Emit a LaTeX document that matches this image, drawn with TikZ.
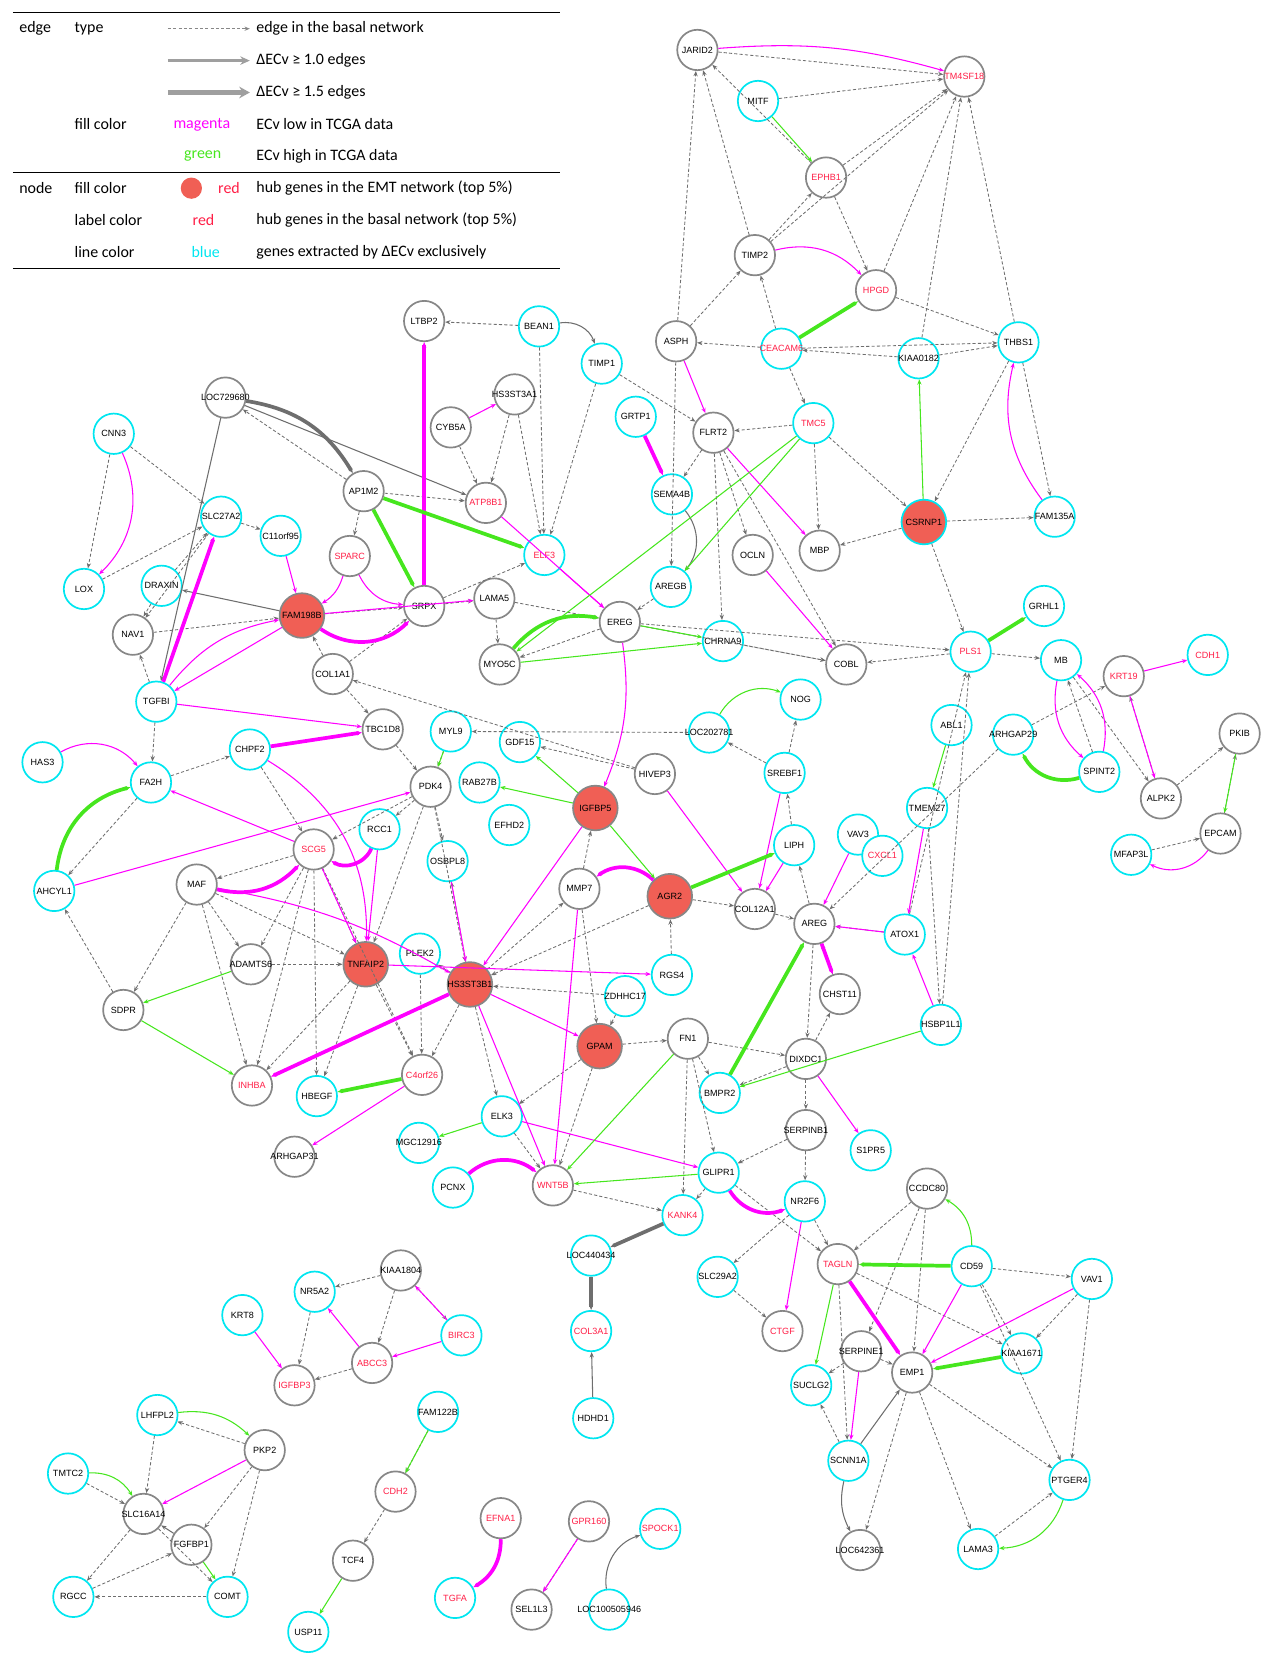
\documentclass[tikz,border=0pt]{standalone}
\usepackage{fontspec}
\setmainfont{Carlito}
\newfontfamily\arialf{Liberation Sans}
\usetikzlibrary{arrows.meta}
\definecolor{cy}{RGB}{0,230,240}
\definecolor{gy}{RGB}{135,135,135}
\definecolor{rd}{RGB}{255,30,70}
\definecolor{hubf}{RGB}{240,95,85}
\definecolor{mg}{RGB}{255,0,255}
\definecolor{gr}{RGB}{70,230,30}
\definecolor{ln}{RGB}{110,110,110}
\tikzset{
 base/.style={circle,line width=1.6pt,minimum size=38pt,inner sep=0pt,fill=white,font=\arialf\fontsize{8.5}{9}\selectfont,
   execute at begin node={\hbox to 0pt\bgroup\hss}, execute at end node={\hss\egroup}},
 cn/.style={base,draw=cy},
 gn/.style={base,draw=gy},
 rl/.style={text=rd},
 hub/.style={base,draw=gy,fill=hubf,minimum size=42pt},
 hubc/.style={base,draw=cy,fill=hubf,minimum size=42pt},
 tip/.style={-{Stealth[length=5pt,width=4pt]}},
 d/.style={tip,ln,dashed,dash pattern=on 3pt off 2pt,line width=0.8pt},
 s/.style={tip,ln,line width=1pt},
 S/.style={tip,ln,line width=3.5pt},
 m/.style={tip,mg,line width=1pt},
 M/.style={tip,mg,line width=3.5pt},
 g/.style={tip,gr,line width=1pt},
 G/.style={tip,gr,line width=3.5pt},
 lg/.style={font=\fontsize{15}{17}\selectfont,anchor=west,inner sep=0pt},
}
\begin{document}
\begin{tikzpicture}[x=1pt,y=-1pt]
\useasboundingbox (0,0) rectangle (1198,1568);
% legend
\draw[line width=0.6pt] (12,12)--(527,12) (12,162)--(527,162) (12,252)--(527,252);
\node[lg] (l1) at (18,27) {edge}; \node[lg] (l2) at (70,27) {type};
\coordinate (a1) at (158,27); \coordinate (b1) at (235,27);
\draw[d,gy,line width=1.2pt] (a1)--(b1);
\node[lg] (t1) at (241,27) {edge in the basal network};
\coordinate (a2) at (158,57); \coordinate (b2) at (235,57);
\draw[gy!80,line width=2.5pt,-{Stealth[length=9pt,width=8pt]}] (a2)--(b2);
\node[lg] (t2) at (241,57) {ΔECv ≥ 1.0 edges};
\coordinate (a3) at (158,87); \coordinate (b3) at (235,87);
\draw[gy!80,line width=5pt,-{Stealth[length=10pt,width=11pt]}] (a3)--(b3);
\node[lg] (t3) at (241,87) {ΔECv ≥ 1.5 edges};
\node[lg] (l3) at (70,117) {fill color}; \node[lg,text=mg] (l4) at (163,117) {magenta};
\node[lg] (t4) at (241,117) {ECv low in TCGA data};
\node[lg,text=gr] (l5) at (173,147) {green}; \node[lg] (t5) at (241,147) {ECv high in TCGA data};
\node[lg] (l6) at (18,177) {node}; \node[lg] (l7) at (70,177) {fill color};
\node[circle,fill=hubf,minimum size=20pt,inner sep=0] (rc) at (180,177) {};
\node[lg,text=rd] (l8) at (205,177) {red}; \node[lg] (t6) at (241,177) {hub genes in the EMT network (top 5\%)};
\node[lg] (l9) at (70,207) {label color}; \node[lg,text=rd] (l10) at (181,207) {red};
\node[lg] (t7) at (241,207) {hub genes in the basal network (top 5\%)};
\node[lg] (l11) at (70,237) {line color}; \node[lg,text=cy] (l12) at (180,237) {blue};
\node[lg] (t8) at (241,237) {genes extracted by ΔECv exclusively};
% nodes
\node[gn] (JARID2) at (656,47) {JARID2};
\node[gn,rl] (TM4SF18) at (907,72) {TM4SF18};
\node[cn] (MITF) at (713,95) {MITF};
\node[gn,rl] (EPHB1) at (777,167) {EPHB1};
\node[gn] (TIMP2) at (710,240) {TIMP2};
\node[gn,rl] (HPGD) at (824,273) {HPGD};
\node[gn] (ASPH) at (636,321) {ASPH};
\node[cn,rl] (CEACAM6) at (735,328) {CEACAM6};
\node[cn] (KIAA0182) at (864,337) {KIAA0182};
\node[cn] (THBS1) at (958,322) {THBS1};
\node[cn,rl] (TMC5) at (765,398) {TMC5};
\node[gn] (FLRT2) at (671,407) {FLRT2};
\node[hubc] (CSRNP1) at (869,491) {CSRNP1};
\node[cn] (FAM135A) at (992,486) {FAM135A};
\node[gn] (MBP) at (771,518) {MBP};
\node[gn] (OCLN) at (708,522) {OCLN};
\node[cn] (GRTP1) at (598,392) {GRTP1};
\node[cn] (SEMA4B) at (632,465) {SEMA4B};
\node[cn] (AREGB) at (631,552) {AREGB};
\node[gn] (LTBP2) at (399,302) {LTBP2};
\node[cn] (BEAN1) at (507,307) {BEAN1};
\node[cn] (TIMP1) at (566,342) {TIMP1};
\node[gn] (HS3ST3A1) at (484,371) {HS3ST3A1};
\node[gn] (CYB5A) at (424,402) {CYB5A};
\node[gn] (LOC729680) at (212,374) {LOC729680};
\node[cn] (CNN3) at (107,408) {CNN3};
\node[gn] (AP1M2) at (342,462) {AP1M2};
\node[gn,rl] (ATP8B1) at (457,473) {ATP8B1};
\node[cn] (SLC27A2) at (208,486) {SLC27A2};
\node[cn] (C11orf95) at (264,504) {C11orf95};
\node[gn,rl] (SPARC) at (329,523) {SPARC};
\node[cn,rl] (ELF3) at (512,522) {ELF3};
\node[cn] (LOX) at (79,554) {LOX};
\node[cn] (DRAXIN) at (152,551) {DRAXIN};
\node[hub] (FAM198B) at (284,579) {FAM198B};
\node[gn] (SRPX) at (399,570) {SRPX};
\node[gn] (LAMA5) at (465,563) {LAMA5};
\node[gn] (EREG) at (583,585) {EREG};
\node[gn] (NAV1) at (125,597) {NAV1};
\node[gn] (MYO5C) at (470,625) {MYO5C};
\node[cn] (CHRNA9) at (680,603) {CHRNA9};
\node[gn] (COBL) at (796,625) {COBL};
\node[cn,rl] (PLS1) at (913,613) {PLS1};
\node[cn] (GRHL1) at (982,570) {GRHL1};
\node[cn] (MB) at (998,621) {MB};
\node[gn,rl] (KRT19) at (1057,636) {KRT19};
\node[cn,rl] (CDH1) at (1136,616) {CDH1};
\node[gn] (COL1A1) at (313,634) {COL1A1};
\node[cn] (NOG) at (753,658) {NOG};
\node[cn] (TGFBI) at (147,660) {TGFBI};
\node[cn] (LOC202781) at (667,689) {LOC202781};
\node[cn] (ABL1) at (895,682) {ABL1};
\node[gn] (PKIB) at (1166,690) {PKIB};
\node[cn] (HAS3) at (40,717) {HAS3};
\node[cn] (FA2H) at (142,736) {FA2H};
\node[cn] (CHPF2) at (235,705) {CHPF2};
\node[gn] (TBC1D8) at (360,686) {TBC1D8};
\node[cn] (MYL9) at (424,688) {MYL9};
\node[cn] (GDF15) at (489,698) {GDF15};
\node[cn] (RAB27B) at (451,736) {RAB27B};
\node[gn] (PDK4) at (405,740) {PDK4};
\node[gn] (HIVEP3) at (616,728) {HIVEP3};
\node[cn] (SREBF1) at (738,727) {SREBF1};
\node[cn] (ARHGAP29) at (953,691) {ARHGAP29};
\node[cn] (SPINT2) at (1034,726) {SPINT2};
\node[gn] (ALPK2) at (1092,751) {ALPK2};
\node[cn] (TMEM27) at (872,760) {TMEM27};
\node[gn] (EPCAM) at (1148,784) {EPCAM};
\node[cn] (MFAP3L) at (1064,804) {MFAP3L};
\node[cn] (AHCYL1) at (51,838) {AHCYL1};
\node[gn,rl] (SCG5) at (295,799) {SCG5};
\node[cn] (RCC1) at (357,780) {RCC1};
\node[gn] (MAF) at (185,832) {MAF};
\node[cn] (OSBPL8) at (421,810) {OSBPL8};
\node[cn] (EFHD2) at (479,776) {EFHD2};
\node[hub] (IGFBP5) at (560,760) {IGFBP5};
\node[cn] (LIPH) at (747,795) {LIPH};
\node[cn] (VAV3) at (807,785) {VAV3};
\node[cn,rl] (CXCL1) at (830,805) {CXCL1};
\node[gn] (MMP7) at (545,836) {MMP7};
\node[hub] (AGR2) at (630,843) {AGR2};
\node[gn] (COL12A1) at (710,855) {COL12A1};
\node[gn] (AREG) at (766,869) {AREG};
\node[cn] (ATOX1) at (851,879) {ATOX1};
\node[gn] (ADAMTS6) at (236,907) {ADAMTS6};
\node[hub] (TNFAIP2) at (344,907) {TNFAIP2};
\node[cn] (PLEK2) at (395,897) {PLEK2};
\node[hub] (HS3ST3B1) at (442,926) {HS3ST3B1};
\node[cn] (RGS4) at (632,917) {RGS4};
\node[cn] (ZDHHC17) at (588,937) {ZDHHC17};
\node[gn] (CHST11) at (790,935) {CHST11};
\node[gn] (SDPR) at (116,950) {SDPR};
\node[cn] (HSBP1L1) at (885,964) {HSBP1L1};
\node[hub] (GPAM) at (564,984) {GPAM};
\node[gn] (FN1) at (647,977) {FN1};
\node[gn] (DIXDC1) at (758,996) {DIXDC1};
\node[gn,rl] (INHBA) at (237,1021) {INHBA};
\node[cn] (HBEGF) at (298,1031) {HBEGF};
\node[gn,rl] (C4orf26) at (397,1011) {C4orf26};
\node[cn] (BMPR2) at (677,1028) {BMPR2};
\node[cn] (ELK3) at (472,1050) {ELK3};
\node[cn] (MGC12916) at (394,1075) {MGC12916};
\node[gn] (ARHGAP31) at (277,1088) {ARHGAP31};
\node[gn] (SERPINB1) at (758,1063) {SERPINB1};
\node[cn] (S1PR5) at (819,1082) {S1PR5};
\node[cn] (PCNX) at (426,1117) {PCNX};
\node[gn,rl] (WNT5B) at (520,1115) {WNT5B};
\node[cn] (GLIPR1) at (676,1103) {GLIPR1};
\node[gn] (CCDC80) at (872,1118) {CCDC80};
\node[cn] (NR2F6) at (757,1130) {NR2F6};
\node[cn,rl] (KANK4) at (642,1143) {KANK4};
\node[cn] (LOC440434) at (556,1181) {LOC440434};
\node[gn,rl] (TAGLN) at (788,1189) {TAGLN};
\node[cn] (CD59) at (914,1191) {CD59};
\node[cn] (VAV1) at (1027,1203) {VAV1};
\node[cn] (SLC29A2) at (675,1201) {SLC29A2};
\node[gn,rl] (CTGF) at (736,1252) {CTGF};
\node[cn] (KIAA1671) at (961,1273) {KIAA1671};
\node[gn] (SERPINE1) at (810,1271) {SERPINE1};
\node[gn] (EMP1) at (858,1291) {EMP1};
\node[cn] (SUCLG2) at (763,1303) {SUCLG2};
\node[cn,rl] (COL3A1) at (556,1252) {COL3A1};
\node[cn] (KRT8) at (228,1237) {KRT8};
\node[cn] (NR5A2) at (296,1215) {NR5A2};
\node[gn] (KIAA1804) at (377,1195) {KIAA1804};
\node[cn,rl] (BIRC3) at (434,1256) {BIRC3};
\node[gn,rl] (ABCC3) at (350,1282) {ABCC3};
\node[gn,rl] (IGFBP3) at (277,1303) {IGFBP3};
\node[cn] (HDHD1) at (558,1334) {HDHD1};
\node[cn] (FAM122B) at (412,1328) {FAM122B};
\node[gn,rl] (CDH2) at (372,1403) {CDH2};
\node[cn] (SCNN1A) at (798,1374) {SCNN1A};
\node[cn] (PTGER4) at (1006,1392) {PTGER4};
\node[gn] (LOC642361) at (809,1458) {LOC642361};
\node[cn] (LAMA3) at (920,1457) {LAMA3};
\node[cn] (LHFPL2) at (148,1331) {LHFPL2};
\node[gn] (PKP2) at (249,1364) {PKP2};
\node[cn] (TMTC2) at (64,1386) {TMTC2};
\node[gn] (SLC16A14) at (135,1424) {SLC16A14};
\node[gn] (FGFBP1) at (180,1453) {FGFBP1};
\node[cn] (RGCC) at (69,1502) {RGCC};
\node[cn] (COMT) at (214,1502) {COMT};
\node[gn] (TCF4) at (332,1468) {TCF4};
\node[cn] (USP11) at (290,1535) {USP11};
\node[gn,rl] (EFNA1) at (471,1428) {EFNA1};
\node[cn,rl] (TGFA) at (428,1503) {TGFA};
\node[gn,rl] (GPR160) at (554,1431) {GPR160};
\node[gn] (SEL1L3) at (500,1514) {SEL1L3};
\node[cn,rl] (SPOCK1) at (621,1438) {SPOCK1};
\node[cn] (LOC100505946) at (573,1514) {LOC100505946};
% dashed edges
\foreach \a/\b in {TIMP2/JARID2,ASPH/JARID2,EPHB1/JARID2,JARID2/TM4SF18,EPHB1/TM4SF18,MITF/TM4SF18,TIMP2/TM4SF18,HPGD/TM4SF18,THBS1/TM4SF18,KIAA0182/TM4SF18,EPHB1/HPGD,TIMP2/EPHB1,ASPH/TIMP2,CEACAM6/TIMP2,HPGD/THBS1,KIAA0182/THBS1,CEACAM6/THBS1,THBS1/FAM135A,CSRNP1/FAM135A,THBS1/CSRNP1,CEACAM6/ASPH,CEACAM6/TMC5,KIAA0182/CEACAM6,TMC5/CSRNP1,TMC5/FLRT2,TMC5/MBP,FLRT2/OCLN,TIMP1/FLRT2,FLRT2/SEMA4B,FLRT2/CHRNA9,FLRT2/COBL,ASPH/AREGB,BEAN1/LTBP2,BEAN1/ELF3,HS3ST3A1/ELF3,HS3ST3A1/ATP8B1,CYB5A/ATP8B1,CNN3/SLC27A2,CNN3/LOX,LOX/SLC27A2,SLC27A2/C11orf95,SLC27A2/NAV1,DRAXIN/SLC27A2,DRAXIN/NAV1,TGFBI/NAV1,AP1M2/SPARC,AP1M2/ATP8B1,SRPX/LAMA5,LAMA5/EREG,SRPX/ELF3,EREG/MYO5C,EREG/COBL,EREG/PLS1,AREGB/EREG,CSRNP1/MBP,CSRNP1/PLS1,PLS1/COBL,PLS1/MB,MB/ALPK2,ALPK2/KRT19,SPINT2/MB,ARHGAP29/KRT19,ARHGAP29/AREG,ALPK2/PKIB,EPCAM/PKIB,MFAP3L/EPCAM,TMEM27/HSBP1L1,HSBP1L1/PLS1,ATOX1/PLS1,ATOX1/AREG,AREG/LIPH,AREG/DIXDC1,LIPH/SREBF1,SREBF1/NOG,SREBF1/LOC202781,LOC202781/MYL9,HIVEP3/GDF15,HIVEP3/COL1A1,COL1A1/FAM198B,COL1A1/SRPX,COL1A1/TBC1D8,TBC1D8/PDK4,MYL9/PDK4,PDK4/OSBPL8,PDK4/HS3ST3B1,PDK4/RCC1,PDK4/SCG5,PDK4/TNFAIP2,SCG5/MAF,SCG5/ADAMTS6,SCG5/TNFAIP2,SCG5/C4orf26,SCG5/HBEGF,SCG5/INHBA,CHPF2/SCG5,FA2H/CHPF2,FA2H/AHCYL1,TGFBI/FA2H,MAF/ADAMTS6,MAF/SDPR,MAF/INHBA,MAF/TNFAIP2,SDPR/AHCYL1,ADAMTS6/TNFAIP2,TNFAIP2/HBEGF,TNFAIP2/C4orf26,TNFAIP2/INHBA,HS3ST3B1/OSBPL8,HS3ST3B1/MMP7,HS3ST3B1/C4orf26,HS3ST3B1/ELK3,HS3ST3B1/PLEK2,ZDHHC17/HS3ST3B1,AGR2/HS3ST3B1,MMP7/IGFBP5,MMP7/GPAM,GPAM/ELK3,GPAM/WNT5B,GPAM/FN1,FN1/BMPR2,FN1/KANK4,FN1/GLIPR1,FN1/DIXDC1,AGR2/COL12A1,COL12A1/AREG,DIXDC1/CHST11,DIXDC1/BMPR2,DIXDC1/SERPINB1,SERPINB1/GLIPR1,SERPINB1/NR2F6,GLIPR1/KANK4,WNT5B/KANK4,ELK3/WNT5B,NR2F6/TAGLN,CCDC80/TAGLN,CCDC80/EMP1,CCDC80/SERPINE1,CD59/VAV1,CD59/KIAA1671,VAV1/KIAA1671,VAV1/PTGER4,TAGLN/KIAA1671,EMP1/PTGER4,EMP1/LAMA3,EMP1/LOC642361,CD59/PTGER4,LAMA3/PTGER4,SLC29A2/CTGF,NR2F6/SLC29A2,SCNN1A/SUCLG2,SERPINE1/SUCLG2,SERPINE1/EMP1,TAGLN/SCNN1A,GLIPR1/TAGLN,KIAA1804/NR5A2,KIAA1804/ABCC3,KIAA1804/BIRC3,NR5A2/IGFBP3,ABCC3/IGFBP3,FAM122B/CDH2,CDH2/TCF4,GPR160/SEL1L3,LHFPL2/SLC16A14,PKP2/LHFPL2,PKP2/FGFBP1,PKP2/COMT,SLC16A14/RGCC,SLC16A14/COMT,COMT/RGCC,TMTC2/SLC16A14,RGCC/FGFBP1,CHST11/AREG,RGS4/AGR2,ZDHHC17/GPAM,PLEK2/C4orf26,LAMA5/MYO5C,FAM198B/SRPX,NAV1/FAM198B,AP1M2/LOC729680,TIMP1/ELF3,CHRNA9/COBL}
  \draw[d] (\a) -- (\b);
\foreach \a/\b in {LOC729680/ATP8B1,LOC729680/TGFBI,FAM198B/DRAXIN,FGFBP1/SLC16A14,SCNN1A/EMP1,HDHD1/COL3A1}
  \draw[s] (\a) -- (\b);
\draw[s] (BEAN1) to[bend left=40] (TIMP1);
\draw[s] (SEMA4B) to[bend left=40] (AREGB);
\draw[s] (LOC100505946) to[bend left=40] (SPOCK1);
\draw[s] (SCNN1A) to[bend right=20] (LOC642361);
\draw[S] (LOC729680) to[bend left=25] (AP1M2);
\draw[S] (LOC440434) -- (COL3A1);
\draw[S] (KANK4) -- (LOC440434);
% magenta thin
\foreach \a/\b in {ASPH/FLRT2,FLRT2/MBP,C11orf95/FAM198B,FAM198B/TGFBI,TGFBI/TBC1D8,ATP8B1/EREG,ELF3/EREG,CYB5A/HS3ST3A1,OCLN/COBL,KRT19/CDH1,KRT19/ALPK2,AHCYL1/PDK4,SCG5/TNFAIP2,RCC1/TNFAIP2,TNFAIP2/RGS4,IGFBP5/HS3ST3B1,OSBPL8/HS3ST3B1,HS3ST3B1/GPAM,HS3ST3B1/WNT5B,MMP7/WNT5B,HIVEP3/COL12A1,LIPH/COL12A1,SREBF1/COL12A1,VAV3/AREG,ATOX1/AREG,HSBP1L1/ATOX1,TMEM27/ATOX1,ELK3/GLIPR1,DIXDC1/S1PR5,C4orf26/ARHGAP31,NR2F6/CTGF,SERPINE1/SCNN1A,VAV1/EMP1,CD59/EMP1,KRT8/IGFBP3,ABCC3/NR5A2,BIRC3/ABCC3,BIRC3/KIAA1804,PKP2/SLC16A14,GPR160/SEL1L3,FAM198B/LAMA5,SCG5/FA2H}
  \draw[m] (\a) -- (\b);
\draw[m] (JARID2) to[bend left=10] (TM4SF18);
\draw[m] (TIMP2) to[bend left=30] (HPGD);
\draw[m] (FAM135A) to[bend left=25] (THBS1);
\draw[m] (EREG) to[bend left=15] (IGFBP5);
\draw[m] (CNN3) to[bend left=35] (LOX);
\draw[m] (HAS3) to[bend left=40] (FA2H);
\draw[m] (EPCAM) to[bend left=40] (MFAP3L);
\draw[m] (MB) to[bend right=30] (SPINT2);
\draw[m] (SPINT2) to[bend right=30] (MB);
\draw[m] (SPARC) to[bend right=30] (SRPX);
\draw[m] (CHPF2) to[bend left=30] (TNFAIP2);
\draw[m] (SPARC) to[bend left=20] (FAM198B);
\draw[m] (TGFBI) to[bend left=20] (FAM198B);
\draw[m] (MAF) to[bend left=10] (HS3ST3B1);
% thick magenta
\draw[M] (SRPX) -- (LTBP2);
\draw[M] (GRTP1) -- (SEMA4B);
\draw[M] (TGFBI) -- (SLC27A2);
\draw[M] (FAM198B) to[bend right=40] (SRPX);
\draw[M] (CHPF2) -- (TBC1D8);
\draw[M] (MAF) to[bend right=30] (SCG5);
\draw[M] (RCC1) to[bend left=50] (SCG5);
\draw[M] (HS3ST3B1) -- (INHBA);
\draw[M] (AGR2) to[bend right=40] (MMP7);
\draw[M] (PCNX) to[bend left=40] (WNT5B);
\draw[M] (GLIPR1) to[bend right=40] (NR2F6);
\draw[M] (TAGLN) -- (EMP1);
\draw[M] (EFNA1) to[bend left=30] (TGFA);
\draw[M] (AREG) -- (CHST11);
% green thin
\foreach \a/\b in {MITF/EPHB1,CSRNP1/KIAA0182,TMC5/AREGB,EREG/CHRNA9,IGFBP5/RAB27B,IGFBP5/GDF15,IGFBP5/AGR2,MYL9/PDK4,ABL1/TMEM27,PKIB/EPCAM,SDPR/INHBA,ADAMTS6/SDPR,HSBP1L1/BMPR2,FN1/WNT5B,GLIPR1/WNT5B,ELK3/MGC12916,TAGLN/SUCLG2,FAM122B/CDH2,TCF4/USP11,FGFBP1/COMT,MYO5C/CHRNA9,TMC5/MYO5C}
  \draw[g] (\a) -- (\b);
\draw[g] (LOC202781) to[bend left=40] (NOG);
\draw[g] (CD59) to[bend right=30] (CCDC80);
\draw[g] (PTGER4) to[bend left=35] (LAMA3);
\draw[g] (LHFPL2) to[bend left=25] (PKP2);
\draw[g] (TMTC2) to[bend left=30] (SLC16A14);
% green thick
\draw[G] (CEACAM6) -- (HPGD);
\draw[G] (AP1M2) -- (SRPX);
\draw[G] (AP1M2) -- (ELF3);
\draw[G] (MYO5C) to[bend left=30] (EREG);
\draw[G] (AHCYL1) to[bend left=35] (FA2H);
\draw[G] (C4orf26) -- (HBEGF);
\draw[G] (BMPR2) -- (AREG);
\draw[G] (AGR2) -- (LIPH);
\draw[G] (SPINT2) to[bend left=40] (ARHGAP29);
\draw[G] (CD59) -- (TAGLN);
\draw[G] (KIAA1671) -- (EMP1);
\draw[G] (PLS1) -- (GRHL1);
\end{tikzpicture}
\end{document}
